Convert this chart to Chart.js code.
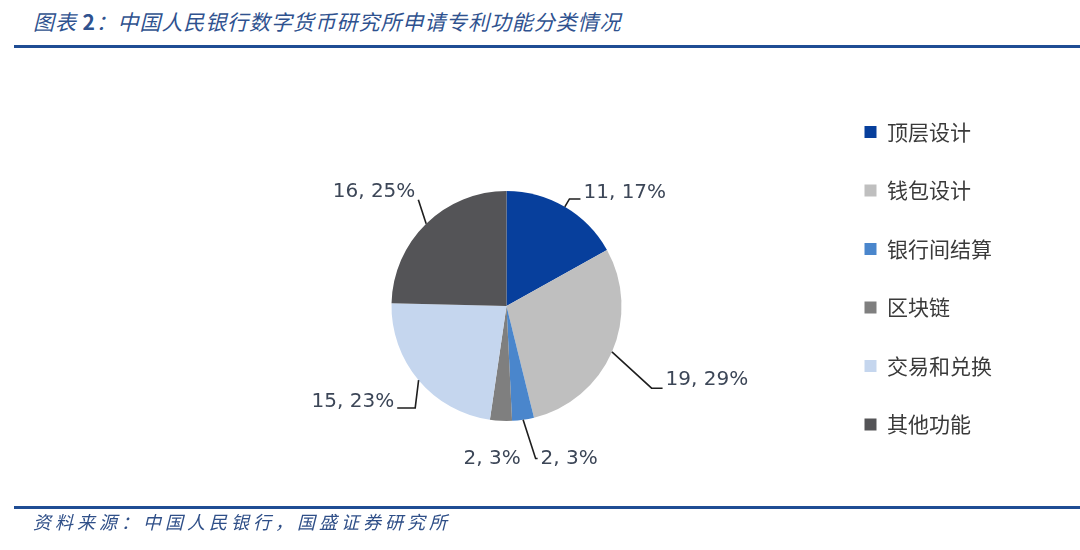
<!DOCTYPE html>
<html>
<head>
<meta charset="utf-8">
<script src="https://cdn.jsdelivr.net/npm/chart.js@4.4.1/dist/chart.umd.min.js"></script>
<style>
    body { margin: 0; background: #fff; }
    #wrap { position: relative; width: 1080px; height: 550px; overflow: hidden; }
    #graf { position: absolute; left: 0; top: 0; }
    .titulo { position: absolute; left: 33px; top: 6px; font: italic 21px "Noto Sans CJK SC"; color: #2f528f; letter-spacing: 0.9px; white-space: nowrap; }
    .titulo b { font-style: normal; font-weight: bold; }
    .fonte { position: absolute; left: 33px; top: 508px; font: italic 18px "Noto Sans CJK SC"; color: #2f4f88; letter-spacing: 4px; white-space: nowrap; }
    .linha { position: absolute; left: 14px; width: 1066px; height: 3px; background: #1f4d94; }
</style>
</head>
<body>
<div id="wrap">
    <div class="titulo">图表 <b>2</b>：中国人民银行数字货币研究所申请专利功能分类情况</div>
    <div class="linha" style="top: 45px"></div>
    <canvas id="graf" width="1080" height="550"></canvas>
    <div class="linha" style="top: 506px"></div>
    <div class="fonte">资料来源：中国人民银行，国盛证券研究所</div>
</div>
<script>
const categorias = ['顶层设计', '钱包设计', '银行间结算', '区块链', '交易和兑换', '其他功能']
const patentes = [11, 19, 2, 2, 15, 16]
const cores = ['#073f9c', '#bfbfbf', '#4a86cc', '#7f7f7f', '#c5d6ee', '#545457']

// ajuste dos rótulos: k = distância do cotovelo (x raio), ang = desvio em graus, len = traço horizontal
const rotulos = [
    { k: 1.08, ang: 0, len: 11, linha: true, dy: -6 },
    { k: 1.45, ang: 6, len: 11, linha: true, dy: -8 },
    { k: 1.35, ang: -2.5, len: 2, linha: true, dy: 0 },
    { k: 1.32, ang: 0, len: 0, linha: false, dy: 1, centro: true, dx: -7 },
    { k: 1.19, ang: -8, len: -18, linha: true, dy: -6 },
    { k: 1.20, ang: 4.6, len: 0, linha: true, dy: -8 }
]

const pluginRotulos = {
    id: 'rotulos',
    afterDatasetsDraw(chart) {
        const ctx = chart.ctx
        const meta = chart.getDatasetMeta(0)
        const total = patentes.reduce((a, b) => a + b, 0)
        ctx.save()
        ctx.font = '20px "DejaVu Sans"'
        ctx.fillStyle = '#3c4657'
        ctx.strokeStyle = '#1e1e1e'
        ctx.lineWidth = 1.6
        ctx.textBaseline = 'middle'
        meta.data.forEach((arco, i) => {
            const p = arco.getProps(['x', 'y', 'startAngle', 'endAngle', 'outerRadius'], true)
            const cfg = rotulos[i]
            const meio = (p.startAngle + p.endAngle) / 2
            const dir = meio + cfg.ang * Math.PI / 180
            const r = p.outerRadius
            const bx = p.x + Math.cos(meio) * r
            const by = p.y + Math.sin(meio) * r
            const ex = p.x + Math.cos(dir) * r * cfg.k
            const ey = p.y + Math.sin(dir) * r * cfg.k
            const fx = ex + cfg.len
            if (cfg.linha) {
                ctx.beginPath()
                ctx.moveTo(bx, by)
                ctx.lineTo(ex, ey)
                ctx.lineTo(fx, ey)
                ctx.stroke()
            }
            const texto = patentes[i] + ', ' + Math.round(patentes[i] / total * 100) + '%'
            const direita = Math.cos(meio) > 0
            if (cfg.centro) {
                ctx.textAlign = 'center'
                ctx.fillText(texto, ex + cfg.dx, ey + cfg.dy)
            } else if (direita) {
                ctx.textAlign = 'left'
                ctx.fillText(texto, fx + 3, ey + cfg.dy)
            } else {
                ctx.textAlign = 'right'
                ctx.fillText(texto, fx - 3, ey + cfg.dy)
            }
        })
        ctx.restore()
    }
}

function criarGraf() {
    const ctx = document.getElementById('graf').getContext('2d')

    new Chart(ctx, {
        type: 'pie',
        data: {
            labels: categorias,
            datasets: [{
                data: patentes,
                backgroundColor: cores,
                borderWidth: 0,
                radius: 115
            }]
        },
        options: {
            responsive: false,
            animation: false,
            layout: {
                padding: { top: 84, bottom: 22, left: 186, right: 78 }
            },
            plugins: {
                legend: {
                    position: 'right',
                    align: 'start',
                    labels: {
                        boxWidth: 12,
                        boxHeight: 12,
                        padding: 37.5,
                        color: '#3a3a3a',
                        font: { family: '"Noto Sans CJK SC"', size: 21 }
                    }
                },
                tooltip: { enabled: false }
            }
        },
        plugins: [pluginRotulos]
    })
}

criarGraf()
</script>
</body>
</html>
